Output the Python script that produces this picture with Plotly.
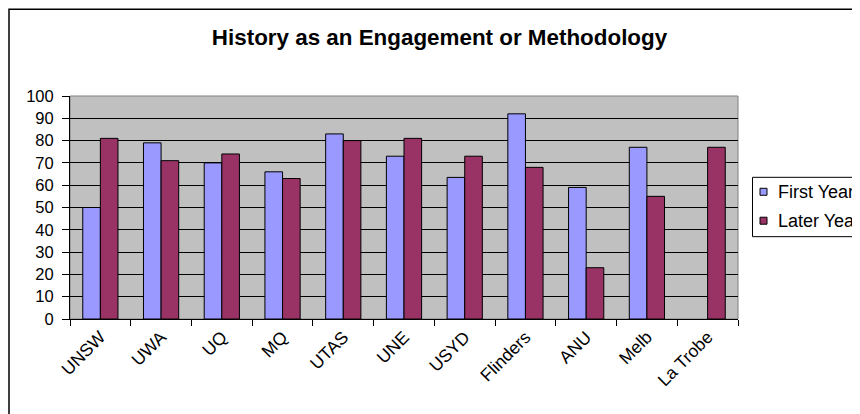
import plotly.graph_objects as go

categories = ["UNSW", "UWA", "UQ", "MQ", "UTAS", "UNE", "USYD", "Flinders", "ANU", "Melb", "La Trobe"]
first_year = [50, 79, 70, 66, 83, 73, 63.5, 92, 59, 77, None]
later_year = [81, 71, 74, 63, 80, 81, 73, 68, 23, 55, 77]
series_names = ["First Year", "Later Year"]
series_colors = ["#9999FF", "#993366"]

# the page body has an 8px margin, so the figure is drawn at (8, 8)
OFF = 8
W, H = 860 - OFF, 414 - OFF
L, R, T, B = 70 - OFF, 738 - OFF, 96 - OFF, 319.5 - OFF
pw, ph = R - L, B - T


def px(x):
    return (x - OFF - L) / pw


def py(y):
    return (B - (y - OFF)) / ph


font = "Liberation Sans, Arial, sans-serif"
fig = go.Figure()
for name, vals, col in zip(series_names, [first_year, later_year], series_colors):
    fig.add_trace(go.Bar(name=name, x=categories, y=vals,
                         marker=dict(color=col, line=dict(color="black", width=1))))

fig.update_layout(
    width=W, height=H,
    margin=dict(l=L, r=W - R, t=T, b=H - B, pad=0),
    paper_bgcolor="white", plot_bgcolor="#C0C0C0",
    barmode="group", bargap=0.42, bargroupgap=0,
    font=dict(family=font, size=17, color="black"),
    title=dict(text="<b>History as an Engagement or Methodology</b>", x=(439.5 - OFF) / W,
               xanchor="center", y=1 - (37.5 - OFF) / H, yanchor="middle",
               font=dict(size=22.4, family=font), automargin=False),
    showlegend=False,
    xaxis=dict(tickangle=-45, ticks="outside", tickson="boundaries", ticklen=6,
               tickcolor="black", showline=True, linecolor="black", linewidth=1,
               showgrid=False, fixedrange=True, automargin=False, tickfont=dict(size=17.5)),
    yaxis=dict(range=[0, 100], dtick=10, ticks="outside", ticklen=7, tickcolor="black",
               showline=True, linecolor="black", linewidth=1, gridcolor="black",
               gridwidth=1, zeroline=False, fixedrange=True, automargin=False,
               tickfont=dict(size=16.5), ticklabelstandoff=5),
)

# plot area border (gray)
fig.add_shape(type="rect", xref="paper", yref="paper", x0=0, x1=1, y0=0, y1=1,
              line=dict(color="#808080", width=1), layer="below")
# outer chart border
fig.add_shape(type="rect", xref="paper", yref="paper",
              x0=px(9), x1=px(900), y0=py(440), y1=py(9),
              line=dict(color="black", width=1.5))

# legend (drawn manually)
fig.add_shape(type="rect", xref="paper", yref="paper",
              x0=px(752.5), x1=px(880), y0=py(237), y1=py(177.5),
              line=dict(color="black", width=1), fillcolor="white")
for i, (name, col) in enumerate(zip(series_names, series_colors)):
    yc = 192 + i * 29
    fig.add_shape(type="rect", xref="paper", yref="paper",
                  x0=px(760), x1=px(767), y0=py(yc + 3.5), y1=py(yc - 3.5),
                  line=dict(color="black", width=1), fillcolor=col)
    fig.add_annotation(text=name, xref="paper", yref="paper", x=px(776), y=py(yc),
                       xanchor="left", yanchor="middle", showarrow=False,
                       font=dict(size=18, family=font, color="black"))

fig.write_html("out.html")
